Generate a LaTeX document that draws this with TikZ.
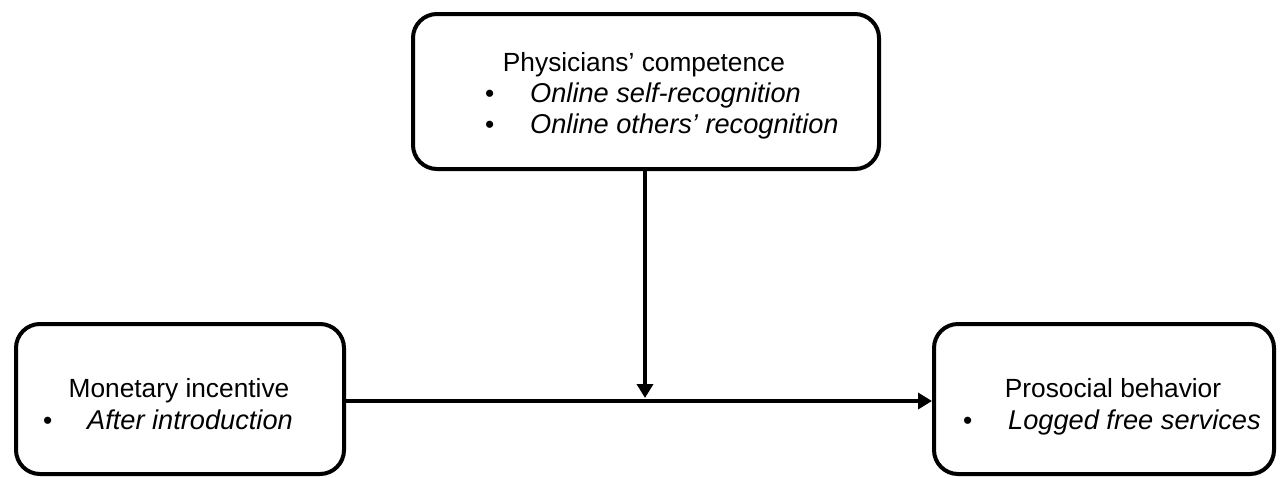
\documentclass[tikz,border=0pt]{standalone}
\usepackage{fontspec}
\setmainfont{Liberation Sans}
\usetikzlibrary{arrows.meta}
\newcommand\boxfont{\fontsize{26.3}{31}\selectfont}
\newcommand\itemfont{\fontsize{27.2}{31}\selectfont\itshape}
\tikzset{
 factor/.style={draw,line width=4pt,rounded corners=24pt,inner sep=0pt},
 head/.style={inner sep=0pt,anchor=base,font=\boxfont},
 item/.style={inner sep=0pt,anchor=base west,font=\itemfont},
 dot/.style={inner sep=0pt,anchor=base west,font=\boxfont},
 link/.style={line width=3.8pt,-{Triangle[width=16pt,length=14pt]}}
}
\begin{document}
\begin{tikzpicture}[x=1pt,y=-1pt]
 \useasboundingbox (0,0) rectangle (1281,477);
 \node (comp) at (646,91.5) [factor,minimum width=466pt,minimum height=155pt] {};
 \node (mon) at (180,399) [factor,minimum width=328pt,minimum height=150pt] {};
 \node (pro) at (1104,399) [factor,minimum width=340pt,minimum height=150pt] {};

 \node (compH) at (644,71) [head] {Physicians’ competence};
 \node (compB1) at (485,102) [dot] {\textbullet};
 \node (compT1) at (530,102) [item] {Online self-recognition};
 \node (compB2) at (485,133) [dot] {\textbullet};
 \node (compT2) at (530,133) [item] {Online others’ recognition};

 \node (monH) at (179,397) [head] {Monetary incentive};
 \node (monB) at (43,429) [dot] {\textbullet};
 \node (monT) at (87,429) [item] {After introduction};

 \node (proH) at (1113,397) [head] {Prosocial behavior};
 \node (proB) at (963,429) [dot] {\textbullet};
 \node (proT) at (1008,429) [item] {Logged free services};

 \coordinate (meet) at (645,398);
 \draw[link] (mon.east |- 0,401) -- (pro.west |- 0,401);
 \draw[link] (comp.south -| meet) -- (meet);
\end{tikzpicture}
\end{document}
